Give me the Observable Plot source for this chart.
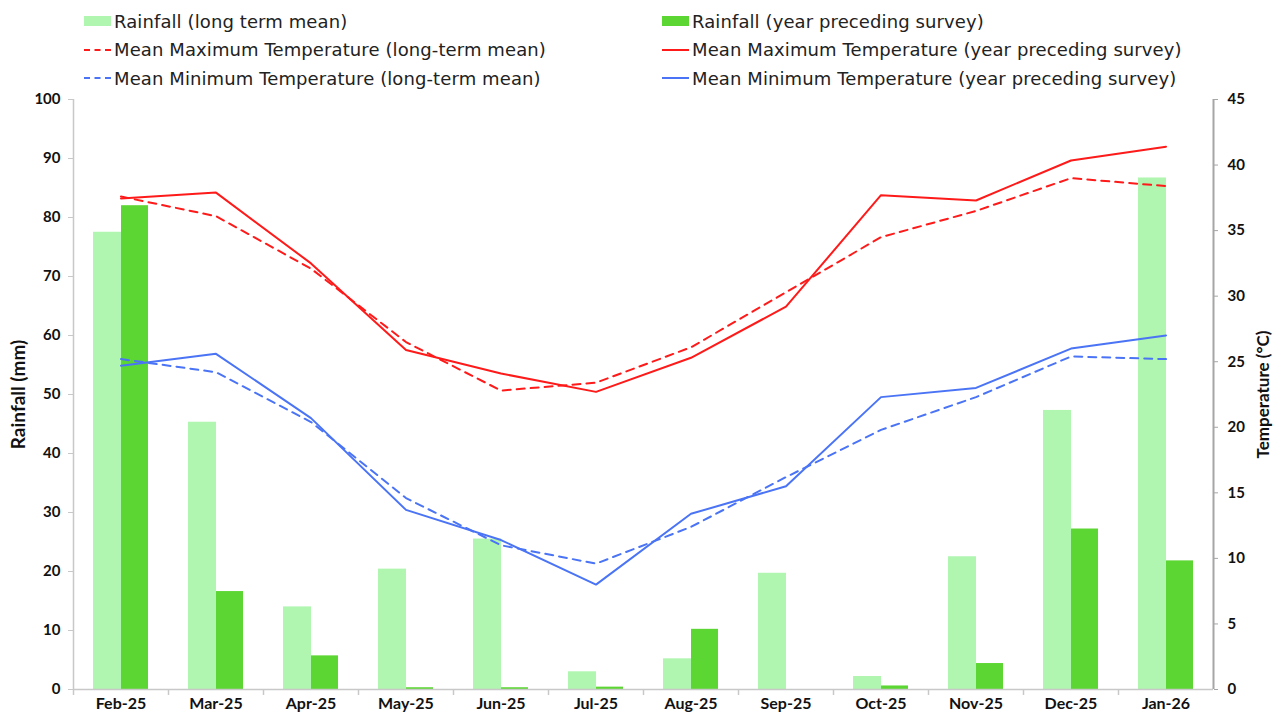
<!DOCTYPE html>
<html>
<head>
<meta charset="utf-8">
<script src="https://cdn.jsdelivr.net/npm/d3@7"></script>
<script src="https://cdn.jsdelivr.net/npm/@observablehq/plot@0.6"></script>
<style>
  html, body { margin: 0; padding: 0; background: #fff; }
  #wrap { width: 1282px; height: 718px; position: relative; overflow: hidden; }
  #legend { position: relative; height: 88px; font-family: "DejaVu Sans", sans-serif; font-size: 18px; letter-spacing: 0.1px; color: #222; }
  .item { position: absolute; display: flex; align-items: center; height: 24px; white-space: nowrap; }
  .sw { width: 27px; margin-right: 3px; }
  .bar { height: 10px; }
  .ln { height: 0; border-top-width: 2px; }
  svg { display: block; }
</style>
</head>
<body>
<div id="wrap">
  <div id="legend"></div>
  <div id="chart"></div>
</div>
<script>
const months = ["Feb-25","Mar-25","Apr-25","May-25","Jun-25","Jul-25","Aug-25","Sep-25","Oct-25","Nov-25","Dec-25","Jan-26"];
const rainLTM = [77.5, 45.3, 14.0, 20.4, 25.5, 3.0, 5.2, 19.7, 2.2, 22.5, 47.3, 86.7];
const rainYPS = [82.0, 16.6, 5.7, 0.3, 0.3, 0.4, 10.2, 0, 0.6, 4.4, 27.2, 21.8];
const tmaxLTM = [37.6, 36.1, 32.1, 26.5, 22.8, 23.4, 26.1, 30.3, 34.5, 36.5, 39.0, 38.4];
const tmaxYPS = [37.45, 37.9, 32.5, 25.9, 24.1, 22.7, 25.3, 29.2, 37.7, 37.3, 40.35, 41.4];
const tminLTM = [25.2, 24.2, 20.4, 14.6, 11.0, 9.6, 12.4, 16.2, 19.8, 22.3, 25.4, 25.2];
const tminYPS = [24.7, 25.6, 20.7, 13.7, 11.4, 8.0, 13.4, 15.5, 22.3, 23.0, 26.0, 27.0];
const rainTicks = [0,10,20,30,40,50,60,70,80,90,100];
const tempTicks = [0,5,10,15,20,25,30,35,40,45];

const C = {
  light: "#b0f5b0", dark: "#5cd633", red: "#ff1a1a", blue: "#4a74f5",
  axis: "#c8c8c8", axisR: "#a6a6a6", text: "#111"
};

const data = months.map((m, i) => ({
  month: m, rainLTM: rainLTM[i], rainYPS: rainYPS[i],
  tmaxLTM: tmaxLTM[i], tmaxYPS: tmaxYPS[i], tminLTM: tminLTM[i], tminYPS: tminYPS[i]
}));

const k = 100 / 45; // temperature -> rainfall scale
const W = 1282, H = 630, ML = 73, MR = 69, MT = 11, MB = 29;
const bw = (W - ML - MR) / months.length;
const font = "Lato, 'DejaVu Sans', sans-serif";

// Legend
const legendItems = [
  {label: "Rainfall (long term mean)", type: "bar", color: C.light, col: 0, row: 0},
  {label: "Rainfall (year preceding survey)", type: "bar", color: C.dark, col: 1, row: 0},
  {label: "Mean Maximum Temperature (long-term mean)", type: "dash", color: C.red, col: 0, row: 1},
  {label: "Mean Maximum Temperature (year preceding survey)", type: "solid", color: C.red, col: 1, row: 1},
  {label: "Mean Minimum Temperature (long-term mean)", type: "dash", color: C.blue, col: 0, row: 2},
  {label: "Mean Minimum Temperature (year preceding survey)", type: "solid", color: C.blue, col: 1, row: 2}
];
const leg = document.getElementById("legend");
legendItems.forEach(it => {
  const d = document.createElement("div");
  d.className = "item";
  d.style.left = (it.col === 0 ? 84 : 662) + "px";
  d.style.top = (9 + it.row * 28.5) + "px";
  const s = document.createElement("div");
  s.className = "sw " + (it.type === "bar" ? "bar" : "ln");
  if (it.type === "bar") s.style.background = it.color;
  else { s.style.borderTopStyle = it.type === "dash" ? "dashed" : "solid"; s.style.borderTopColor = it.color; }
  const t = document.createElement("span");
  t.textContent = it.label;
  d.appendChild(s); d.appendChild(t);
  leg.appendChild(d);
});

const chart = Plot.plot({
  width: W, height: H,
  marginLeft: ML, marginRight: MR, marginTop: MT, marginBottom: MB,
  style: {fontFamily: font, background: "#fff", color: C.text, overflow: "visible"},
  x: {type: "band", domain: months, padding: 0, axis: null},
  y: {domain: [0, 100], axis: null},
  marks: [
    Plot.barY(data, {x: "month", y: "rainLTM", fill: C.light, insetLeft: 20, insetRight: 47}),
    Plot.barY(data, {x: "month", y: "rainYPS", fill: C.dark, insetLeft: 48, insetRight: 20}),
    // axis lines
    Plot.ruleY([0], {stroke: C.axis, strokeWidth: 1.5}),
    Plot.ruleX([months[0]], {dx: -bw / 2, stroke: C.axis, strokeWidth: 1.5}),
    Plot.ruleX([months[months.length - 1]], {dx: bw / 2, stroke: C.axisR, strokeWidth: 2}),
    // x boundary tick marks
    Plot.ruleX(months, {x: d => d, dx: -bw / 2, y1: 0, y2: 0, insetBottom: -6, stroke: C.axis, strokeWidth: 1.5}),
    // temperature lines
    Plot.line(data, {x: "month", y: d => d.tmaxLTM * k, stroke: C.red, strokeWidth: 2, strokeDasharray: "8,6"}),
    Plot.line(data, {x: "month", y: d => d.tmaxYPS * k, stroke: C.red, strokeWidth: 2}),
    Plot.line(data, {x: "month", y: d => d.tminLTM * k, stroke: C.blue, strokeWidth: 2, strokeDasharray: "8,6"}),
    Plot.line(data, {x: "month", y: d => d.tminYPS * k, stroke: C.blue, strokeWidth: 2}),
    // axes
    Plot.axisX({tickSize: 0, tickPadding: 8, fontSize: 16, fontWeight: "bold", label: null}),
    Plot.axisY(rainTicks, {anchor: "left", tickSize: 5, tickPadding: 8, stroke: C.axis, fontSize: 15, fontWeight: "bold",
      label: "Rainfall (mm)", labelArrow: false, labelAnchor: "center", labelOffset: 62}),
    Plot.axisY(tempTicks.map(t => t * k), {anchor: "right", tickSize: 4, tickPadding: 10, stroke: C.axisR,
      tickFormat: d => String(Math.round(d / k)), fontSize: 15, fontWeight: "bold",
      label: "Temperature (°C)", labelArrow: false, labelAnchor: "center", labelOffset: 55})
  ]
});
document.getElementById("chart").appendChild(chart);
// bold axis labels
const labs = chart.querySelectorAll("g[aria-label='y-axis label']");
labs.forEach((n, i) => {
  n.setAttribute("font-weight", "bold");
  n.setAttribute("font-size", i === 0 ? "19" : "17");
  n.querySelectorAll("text").forEach(t => { t.setAttribute("font-weight", "bold"); t.setAttribute("font-size", i === 0 ? "19" : "17"); });
});
</script>
</body>
</html>
